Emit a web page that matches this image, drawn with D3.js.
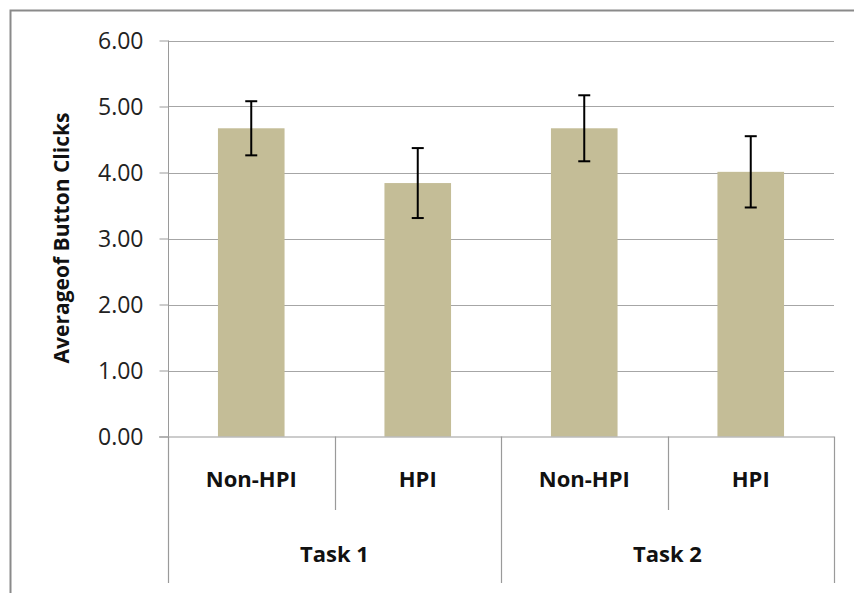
<!DOCTYPE html>
<html><head><meta charset="utf-8">
<script src="https://cdn.jsdelivr.net/npm/d3@7"></script>
<style>body{margin:0;background:#fff}svg{display:block}</style>
</head><body>
<script>
const groups = ["Task 1", "Task 2"];
const conditions = ["Non-HPI", "HPI"];
const means = [4.67, 3.84, 4.67, 4.01];
const errors = [0.41, 0.53, 0.50, 0.54];
const yTicks = [0, 1, 2, 3, 4, 5, 6];
const yLabel = "Averageof Button Clicks";

const W = 854, H = 593;
const svg = d3.select("body").append("svg").attr("width", W).attr("height", H);
const L = 168, R = 834, T = 40.5, B = 436.5;
const font = "'Open Sans', sans-serif";

// outer chart border
svg.append("rect").attr("x", 10.5).attr("y", 10.5).attr("width", W + 20).attr("height", H + 20)
  .attr("fill", "none").attr("stroke", "#8a8a8a").attr("stroke-width", 2);

const cats = [];
groups.forEach(g => conditions.forEach(c => cats.push(g + "|" + c)));
const x = d3.scaleBand().domain(cats).range([L, R]).paddingInner(0).paddingOuter(0);
const y = d3.scaleLinear().domain([0, 6]).range([B, T]);

// gridlines
svg.append("g").selectAll("line").data(yTicks.filter(d => d > 0)).join("line")
  .attr("x1", L).attr("x2", R).attr("y1", d => Math.round(y(d)) + 0.5).attr("y2", d => Math.round(y(d)) + 0.5)
  .attr("stroke", "#a6a6a6").attr("stroke-width", 1.2);

// y axis
const yAxis = d3.axisLeft(y).tickValues(yTicks).tickFormat(d3.format(".2f")).tickSize(9).tickPadding(16);
const gy = svg.append("g").attr("transform", `translate(${L + 0.5},0)`).call(yAxis);
gy.select(".domain").attr("stroke", "#9a9a9a").attr("d", `M0,${T}V${B}`);
gy.selectAll(".tick line").attr("stroke", "#9a9a9a");
gy.selectAll(".tick text").attr("font-family", font).attr("font-size", 23).attr("fill", "#222")
  .attr("dy", "0.34em");

// y label
svg.append("text").attr("transform", `translate(69,238) rotate(-90)`)
  .attr("text-anchor", "middle").attr("font-family", font).attr("font-weight", "bold")
  .attr("font-size", 21).attr("fill", "#111").text(yLabel);

// bars
const bw = x.bandwidth() * 0.4;
const data = cats.map((c, i) => ({ c, m: means[i], e: errors[i] }));
svg.append("g").selectAll("rect").data(data).join("rect")
  .attr("x", d => x(d.c) + (x.bandwidth() - bw) / 2).attr("width", bw)
  .attr("y", d => y(d.m)).attr("height", d => y(0) - y(d.m)).attr("fill", "#c4bd97");

// error bars
const eg = svg.append("g").attr("stroke", "#000").attr("stroke-width", 2);
data.forEach(d => {
  const cx = x(d.c) + x.bandwidth() / 2;
  eg.append("line").attr("x1", cx).attr("x2", cx).attr("y1", y(d.m + d.e)).attr("y2", y(d.m - d.e));
  eg.append("line").attr("x1", cx - 6).attr("x2", cx + 6).attr("y1", y(d.m + d.e)).attr("y2", y(d.m + d.e));
  eg.append("line").attr("x1", cx - 6).attr("x2", cx + 6).attr("y1", y(d.m - d.e)).attr("y2", y(d.m - d.e));
});

// x axis baseline
svg.append("line").attr("x1", 159).attr("x2", R).attr("y1", B + 0.5).attr("y2", B + 0.5)
  .attr("stroke", "#9a9a9a").attr("stroke-width", 1.2);

// category dividers
const ax = svg.append("g").attr("stroke", "#9a9a9a").attr("stroke-width", 1.2);
cats.forEach((c, i) => {
  const xl = x(c);
  const long = i % 2 === 0;
  ax.append("line").attr("x1", Math.round(xl) + 0.5).attr("x2", Math.round(xl) + 0.5)
    .attr("y1", B).attr("y2", long ? 583 : 510);
});
ax.append("line").attr("x1", R + 0.5).attr("x2", R + 0.5).attr("y1", B).attr("y2", 583);

// category labels
svg.append("g").selectAll("text").data(cats).join("text")
  .attr("x", d => x(d) + x.bandwidth() / 2).attr("y", 487)
  .attr("text-anchor", "middle").attr("font-family", font).attr("font-weight", "bold")
  .attr("font-size", 22).attr("fill", "#111").text(d => d.split("|")[1]);

svg.append("g").selectAll("text").data(groups).join("text")
  .attr("x", g => x(g + "|" + conditions[0]) + x.bandwidth()).attr("y", 562)
  .attr("text-anchor", "middle").attr("font-family", font).attr("font-weight", "bold")
  .attr("font-size", 22).attr("fill", "#111").text(g => g);
</script>
</body></html>
